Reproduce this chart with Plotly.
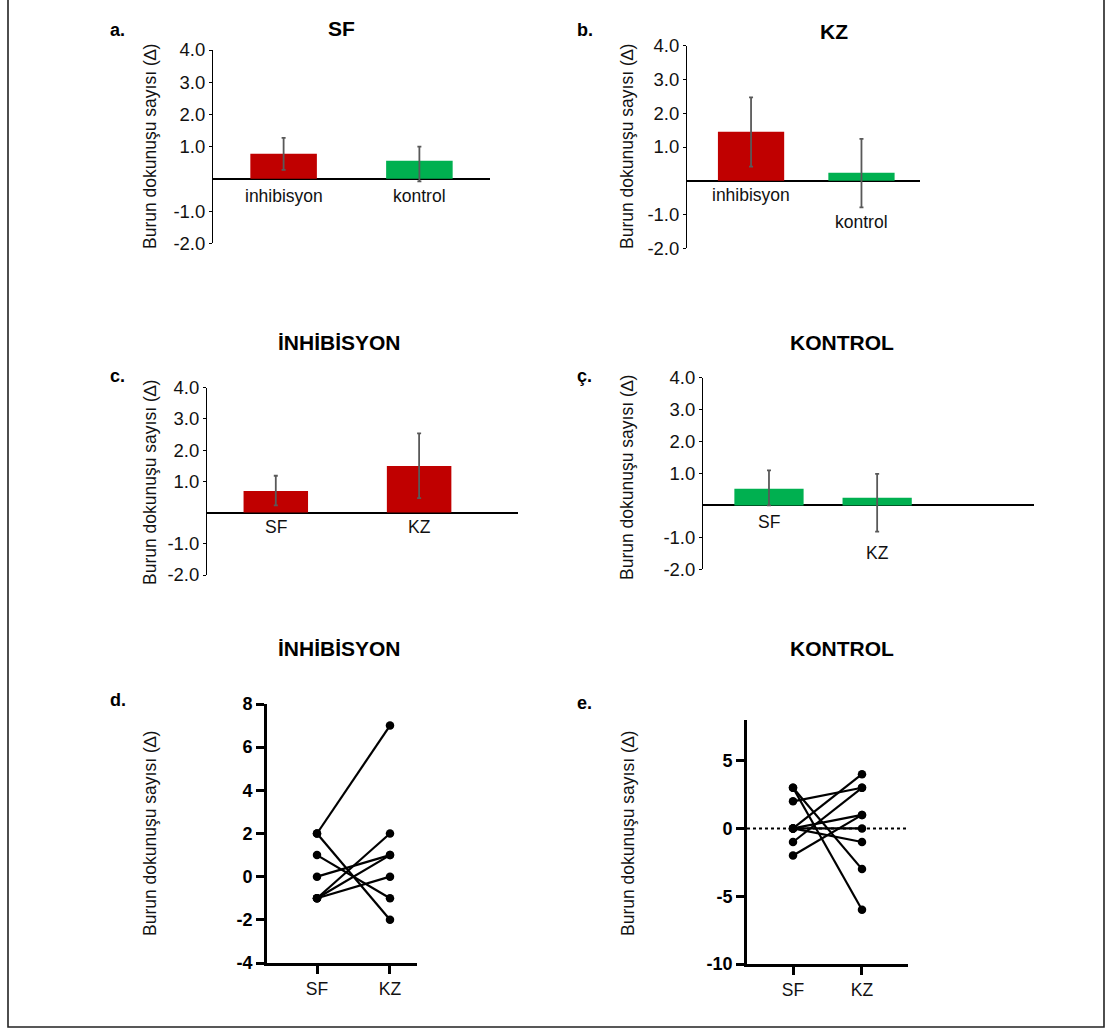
import plotly.graph_objects as go

W, H = 1113, 1029

# ---------------- data ----------------
# a. SF
a_cats = ["inhibisyon", "kontrol"]
a_vals = [0.78, 0.56]
a_err_plus = [0.49, 0.44]
a_err_minus = [0.50, 0.64]
# b. KZ
b_cats = ["inhibisyon", "kontrol"]
b_vals = [1.45, 0.24]
b_err_plus = [1.02, 1.00]
b_err_minus = [1.03, 1.03]
# c. INHIBISYON
c_cats = ["SF", "KZ"]
c_vals = [0.69, 1.49]
c_err_plus = [0.49, 1.05]
c_err_minus = [0.46, 1.03]
# ç. KONTROL
cc_cats = ["SF", "KZ"]
cc_vals = [0.52, 0.24]
cc_err_plus = [0.58, 0.75]
cc_err_minus = [0.52, 1.06]
# d. INHIBISYON paired
d_cats = ["SF", "KZ"]
d_sf = [2, 2, 1, 0, -1, -1, -1]
d_kz = [7, -2, -1, 1, 2, 1, 0]
# e. KONTROL paired
e_cats = ["SF", "KZ"]
e_sf = [3, 3, 2, 0, 0, 0, 0, -1, -2]
e_kz = [-6, -3, 3, 4, 1, 0, -1, 3, 1]

bar_ticks = [-2, -1, 1, 2, 3, 4]
bar_ticktext = ["-2.0", "-1.0", "1.0", "2.0", "3.0", "4.0"]
d_ticks = [-4, -2, 0, 2, 4, 6, 8]
d_ticktext = ["-4", "-2", "0", "2", "4", "6", "8"]
e_ticks = [-10, -5, 0, 5]
e_ticktext = ["-10", "-5", "0", "5"]

RED = "#C00000"
GREEN = "#00B050"
FONT = "Liberation Sans, Arial, sans-serif"
ERRC = "#595959"
YTITLE = "Burun dokunuşu sayısı (∆)"


def px(x):
    return x / W


def py(y):
    return 1 - y / H


def label(x, y, text, size, color="#000", angle=0):
    return dict(x=px(x), y=py(y), xref="paper", yref="paper", text=text, showarrow=False,
                xanchor="center", yanchor="middle", textangle=angle,
                font=dict(family=FONT, size=size, color=color))


fig = go.Figure()
annotations = []
shapes = []

bar_panels = [
    dict(cats=a_cats, vals=a_vals, ep=a_err_plus, em=a_err_minus, colors=[RED, GREEN],
         x0=213, x1=490, yt=50, yb=243.3, xr=[-0.52, 1.52], width=0.49,
         lab_y=[-0.53, -0.53], title="SF", title_xy=(341, 29), tag="a.", tag_xy=(117, 30),
         ytitle_xy=(150, 147)),
    dict(cats=b_cats, vals=b_vals, ep=b_err_plus, em=b_err_minus, colors=[RED, GREEN],
         x0=687, x1=920, yt=45.7, yb=248.3, xr=[-0.58, 1.53], width=0.60,
         lab_y=[-0.41, -1.21], title="KZ", title_xy=(834, 31), tag="b.", tag_xy=(585, 30),
         ytitle_xy=(627, 147)),
    dict(cats=c_cats, vals=c_vals, ep=c_err_plus, em=c_err_minus, colors=[RED, RED],
         x0=207, x1=518, yt=387.7, yb=575, xr=[-0.48, 1.69], width=0.45,
         lab_y=[-0.46, -0.46], title="İNHİBİSYON", title_xy=(339, 342), tag="c.", tag_xy=(117, 376),
         ytitle_xy=(150, 483)),
    dict(cats=cc_cats, vals=cc_vals, ep=cc_err_plus, em=cc_err_minus, colors=[GREEN, GREEN],
         x0=703, x1=1034, yt=377.7, yb=569.3, xr=[-0.61, 2.45], width=0.64,
         lab_y=[-0.52, -1.49], title="KONTROL", title_xy=(842, 342), tag="ç.", tag_xy=(585, 376),
         ytitle_xy=(627, 478)),
]

for i, p in enumerate(bar_panels, start=1):
    xa = "x" if i == 1 else f"x{i}"
    ya = "y" if i == 1 else f"y{i}"
    fig.add_trace(go.Bar(
        x=list(range(len(p["cats"]))), y=p["vals"], width=p["width"],
        marker=dict(color=p["colors"], line=dict(width=0)),
        error_y=dict(type="data", symmetric=False, array=p["ep"], arrayminus=p["em"],
                     color=ERRC, thickness=1.8, width=2),
        xaxis=xa, yaxis=ya, showlegend=False, hoverinfo="skip"))
    fig.update_layout(**{
        ("xaxis" if i == 1 else f"xaxis{i}"): dict(
            domain=[px(p["x0"]), px(p["x1"])], range=p["xr"], showline=False,
            showticklabels=False, ticks="", showgrid=False, zeroline=False,
            anchor=ya, fixedrange=True, automargin=False),
        ("yaxis" if i == 1 else f"yaxis{i}"): dict(
            domain=[py(p["yb"]), py(p["yt"])], range=[-2, 4], tickvals=bar_ticks,
            ticktext=bar_ticktext, ticks="outside", ticklen=3, tickwidth=1,
            tickcolor="#000", showline=True, linecolor="#000", linewidth=1,
            showgrid=False, zeroline=True, zerolinecolor="#000", zerolinewidth=1.6,
            tickfont=dict(family=FONT, size=18.5, color="#111"), anchor=xa,
            fixedrange=True, automargin=False),
    })
    for j, c in enumerate(p["cats"]):
        annotations.append(dict(x=j, y=p["lab_y"][j], xref=xa, yref=ya, text=c,
                                showarrow=False, xanchor="center", yanchor="middle",
                                font=dict(family=FONT, size=17.5, color="#111")))
    annotations.append(label(*p["title_xy"], f"<b>{p['title']}</b>", 21))
    annotations.append(label(*p["tag_xy"], f"<b>{p['tag']}</b>", 18))
    annotations.append(label(*p["ytitle_xy"], YTITLE, 17.5, "#111", -90))

pair_panels = [
    dict(cats=d_cats, sf=d_sf, kz=d_kz, x0=267, x1=417, yt=704, yb=963, xr=[-0.685, 1.37],
         yr=[-4, 8], ticks=d_ticks, ticktext=d_ticktext, title="İNHİBİSYON",
         title_xy=(339, 648), tag="d.", tag_xy=(118, 700), ytitle_xy=(150, 834), dotted=False),
    dict(cats=e_cats, sf=e_sf, kz=e_kz, x0=747, x1=908, yt=720, yb=964, xr=[-0.667, 1.667],
         yr=[-10, 8], ticks=e_ticks, ticktext=e_ticktext, title="KONTROL",
         title_xy=(842, 648), tag="e.", tag_xy=(585, 703), ytitle_xy=(628, 834), dotted=True),
]

for k, p in enumerate(pair_panels, start=5):
    xa, ya = f"x{k}", f"y{k}"
    for s, z in zip(p["sf"], p["kz"]):
        fig.add_trace(go.Scatter(
            x=p["cats"], y=[s, z], mode="lines+markers",
            line=dict(color="#000", width=2.2), marker=dict(color="#000", size=8.5),
            xaxis=xa, yaxis=ya, showlegend=False, hoverinfo="skip", cliponaxis=False))
    fig.update_layout(**{
        f"xaxis{k}": dict(domain=[px(p["x0"]), px(p["x1"])], type="category",
                          categoryorder="array", categoryarray=p["cats"], range=p["xr"],
                          showline=True, linecolor="#000", linewidth=2.6, ticks="outside",
                          ticklen=8, tickwidth=2.6, tickcolor="#000", showgrid=False,
                          zeroline=False, tickfont=dict(family=FONT, size=17.5, color="#111"),
                          anchor=ya, fixedrange=True, automargin=False),
        f"yaxis{k}": dict(domain=[py(p["yb"]), py(p["yt"])], range=p["yr"], tickvals=p["ticks"],
                          ticktext=p["ticktext"], ticks="outside", ticklen=8, tickwidth=2.6,
                          tickcolor="#000", showline=True, linecolor="#000", linewidth=2.6,
                          showgrid=False, zeroline=False,
                          tickfont=dict(family=FONT, size=18, color="#000", weight="bold"),
                          anchor=xa, fixedrange=True, automargin=False),
    })
    if p["dotted"]:
        shapes.append(dict(type="line", xref=xa, yref=ya, x0=p["xr"][0], x1=p["xr"][1], y0=0,
                           y1=0, line=dict(color="#000", width=2, dash="dot"), layer="below"))
    annotations.append(label(*p["title_xy"], f"<b>{p['title']}</b>", 21))
    annotations.append(label(*p["tag_xy"], f"<b>{p['tag']}</b>", 18))
    annotations.append(label(*p["ytitle_xy"], YTITLE, 17.5, "#111", -90))

# page border
shapes.append(dict(type="rect", xref="paper", yref="paper", x0=px(8), x1=px(1104),
                   y0=py(1027), y1=py(-5), line=dict(color="#222", width=1.6),
                   fillcolor="rgba(0,0,0,0)"))

fig.update_layout(width=W, height=H, autosize=False, margin=dict(l=0, r=0, t=0, b=0),
                  paper_bgcolor="white", plot_bgcolor="rgba(0,0,0,0)",
                  annotations=annotations, shapes=shapes, showlegend=False,
                  font=dict(family=FONT))

fig.write_html("out.html", config={"displayModeBar": False, "responsive": False},
               post_script="document.body.style.margin='0';document.body.style.overflow='hidden';")
